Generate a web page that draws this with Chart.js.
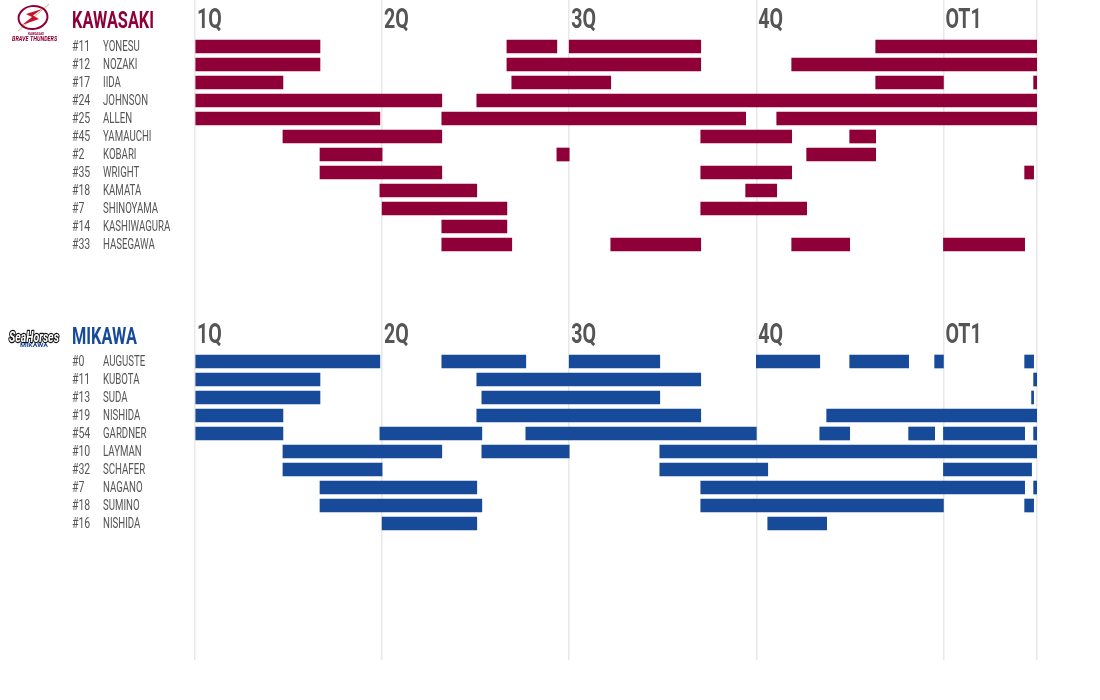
<!DOCTYPE html>
<html><head><meta charset="utf-8">
<style>html,body{margin:0;padding:0;background:#fff}#w{position:absolute;left:0;top:0;width:1100px;height:700px}</style>
<script src="https://cdn.jsdelivr.net/npm/chart.js@4/dist/chart.umd.js"></script>
</head><body><div id="w"><canvas id="c"></canvas></div>
<script>
const quarterLabels = ["1Q","2Q","3Q","4Q","OT1"];
const quarterStarts = [0,10,20,30,40];
const gameEnd = 45;

const kawasakiTeam = "KAWASAKI";
const kawasakiNumbers = ["#11","#12","#17","#24","#25","#45","#2","#35","#18","#7","#14","#33"];
const kawasakiNames = ["YONESU","NOZAKI","IIDA","JOHNSON","ALLEN","YAMAUCHI","KOBARI","WRIGHT","KAMATA","SHINOYAMA","KASHIWAGURA","HASEGAWA"];
const kawasakiStints = [
 [[0,6.68],[16.67,19.34],[20,27.03],[36.38,45]],
 [[0,6.68],[16.67,27.03],[31.89,45]],
 [[0,4.70],[16.93,22.22],[36.38,40],[44.82,45]],
 [[0,13.19],[15.06,45]],
 [[0,9.88],[13.19,29.43],[31.09,45]],
 [[4.70,13.19],[27.03,31.89],[34.99,36.38]],
 [[6.68,10],[19.34,20],[32.69,36.38]],
 [[6.68,13.19],[27.03,31.89],[44.34,44.82]],
 [[9.88,15.06],[29.43,31.09]],
 [[10,16.67],[27.03,32.69]],
 [[13.19,16.67]],
 [[13.19,16.93],[22.22,27.03],[31.89,34.99],[40,44.34]]
];

const mikawaTeam = "MIKAWA";
const mikawaNumbers = ["#0","#11","#13","#19","#54","#10","#32","#7","#18","#16"];
const mikawaNames = ["AUGUSTE","KUBOTA","SUDA","NISHIDA","GARDNER","LAYMAN","SCHAFER","NAGANO","SUMINO","NISHIDA"];
const mikawaStints = [
 [[0,9.88],[13.19,17.68],[20,24.84],[30,33.39],[34.99,38.14],[39.53,40],[44.34,44.82]],
 [[0,6.68],[15.06,27.03],[44.82,45]],
 [[0,6.68],[15.33,24.84],[44.71,44.82]],
 [[0,4.70],[15.06,27.03],[33.76,45]],
 [[0,4.70],[9.88,15.33],[17.68,30],[33.39,34.99],[38.14,39.53],[40,44.34],[44.82,45]],
 [[4.70,13.19],[15.33,20],[24.84,45]],
 [[4.70,10],[24.84,30.61],[40,44.71]],
 [[6.68,15.06],[27.03,44.34],[44.82,45]],
 [[6.68,15.33],[27.03,40],[44.34,44.82]],
 [[10,15.06],[30.61,33.76]]
];

const RED = "#8f0038", BLUE = "#174a98", GREY = "#555555";
const mikawaRowStart = 17.5;
const kRows = kawasakiNames.map((_, i) => i);
const mRows = mikawaNames.map((_, i) => mikawaRowStart + i);
const allRows = kRows.concat(mRows);
const allNames = kawasakiNames.concat(mikawaNames);
const allNumbers = kawasakiNumbers.concat(mikawaNumbers);

const toPoints = (stints, rows) => stints.flatMap((list, i) => list.map(s => ({x: s, y: rows[i]})));
const FONT = 'Roboto,"DejaVu Sans",sans-serif';

function txt(ctx, s, x, y, size, color, weight, sx, style) {
  ctx.save();
  ctx.translate(x, y);
  ctx.scale(sx, 1);
  ctx.font = `${style || ""} ${weight} ${size}px ${FONT}`;
  ctx.fillStyle = color;
  ctx.textAlign = "left";
  ctx.textBaseline = "alphabetic";
  ctx.fillText(s, 0, 0);
  ctx.restore();
}

function drawKawasakiLogo(ctx) {
  ctx.save();
  ctx.strokeStyle = "#c9a24a"; ctx.lineWidth = 0.8;
  ctx.beginPath(); ctx.moveTo(18, 31); ctx.lineTo(49, 4); ctx.stroke();
  ctx.strokeStyle = RED; ctx.lineWidth = 2;
  ctx.beginPath(); ctx.ellipse(33, 17.5, 14.5, 11.5, -0.15, 0, Math.PI * 2); ctx.stroke();
  ctx.fillStyle = "#c4122f";
  ctx.beginPath();
  ctx.moveTo(42, 9); ctx.lineTo(26, 14); ctx.lineTo(32, 17); ctx.lineTo(22, 25);
  ctx.lineTo(39, 19); ctx.lineTo(33, 15.5); ctx.closePath(); ctx.fill();
  ctx.restore();
  txt(ctx, "KAWASAKI", 28, 35, 3.5, RED, "bold", 0.9);
  txt(ctx, "BRAVE THUNDERS", 12, 41, 7, RED, "bold", 0.78, "italic");
}
function drawMikawaLogo(ctx) {
  ctx.save();
  ctx.font = `italic bold 15px ${FONT}`;
  ctx.translate(9, 342); ctx.scale(0.7, 1);
  ctx.lineWidth = 2.5; ctx.strokeStyle = "#111"; ctx.lineJoin = "round";
  ctx.strokeText("SeaHorses", 0, 0);
  ctx.fillStyle = "#fff"; ctx.fillText("SeaHorses", 0, 0);
  ctx.restore();
  txt(ctx, "MIKAWA", 20, 347, 5, BLUE, "bold", 1.4);
}

const headerPlugin = {
  id: "headers",
  afterDatasetsDraw(chart) {
    const { ctx, scales } = chart;
    const yS = scales.y;
    const yK = yS.getPixelForValue(0), yM = yS.getPixelForValue(mikawaRowStart);
    [[yK, kawasakiTeam, RED, 18.5, 18.5], [yM, mikawaTeam, BLUE, 17.5, 18.5]].forEach(([yy, name, col, dTeam, dQuarter]) => {
      txt(ctx, name, 72, yy - dTeam, 24, col, "bold", 0.68);
      quarterLabels.forEach((q, i) => {
        txt(ctx, q, scales.x.getPixelForValue(quarterStarts[i]) + 2, yy - dQuarter, 28, GREY, "bold", 0.7);
      });
    });
    allRows.forEach((r, i) => txt(ctx, allNumbers[i], 72, yS.getPixelForValue(r) + 4, 14, GREY, "normal", 0.75));
    allRows.forEach((r, i) => txt(ctx, allNames[i], 103, yS.getPixelForValue(r) + 4, 14, GREY, "normal", 0.69));
    drawKawasakiLogo(ctx);
    drawMikawaLogo(ctx);
  }
};

new Chart(document.getElementById("c"), {
  type: "bar",
  plugins: [headerPlugin],
  data: {
    datasets: [
      { label: kawasakiTeam, data: toPoints(kawasakiStints, kRows), backgroundColor: RED },
      { label: mikawaTeam, data: toPoints(mikawaStints, mRows), backgroundColor: BLUE }
    ]
  },
  options: {
    indexAxis: "y",
    responsive: true, maintainAspectRatio: false, animation: false,
    devicePixelRatio: 1,
    layout: { padding: { left: 195, right: 63, top: 0, bottom: 40 } },
    grouped: false,
    barThickness: 13,
    borderSkipped: false,
    plugins: { legend: { display: false }, tooltip: { enabled: false }, title: { display: false } },
    scales: {
      x: {
        type: "linear", position: "top", min: 0, max: gameEnd,
        afterBuildTicks: s => { s.ticks = quarterStarts.concat([gameEnd]).map(v => ({ value: v })); },
        ticks: { display: false },
        grid: { color: "#e8e8e8", lineWidth: 1.5, drawTicks: false },
        border: { display: false }
      },
      y: {
        type: "linear", reverse: true, offset: false, min: -46.5 / 18, max: (660 - 46.5) / 18,
        display: false,
        grid: { display: false, offset: false }
      }
    }
  }
});
</script></body></html>
